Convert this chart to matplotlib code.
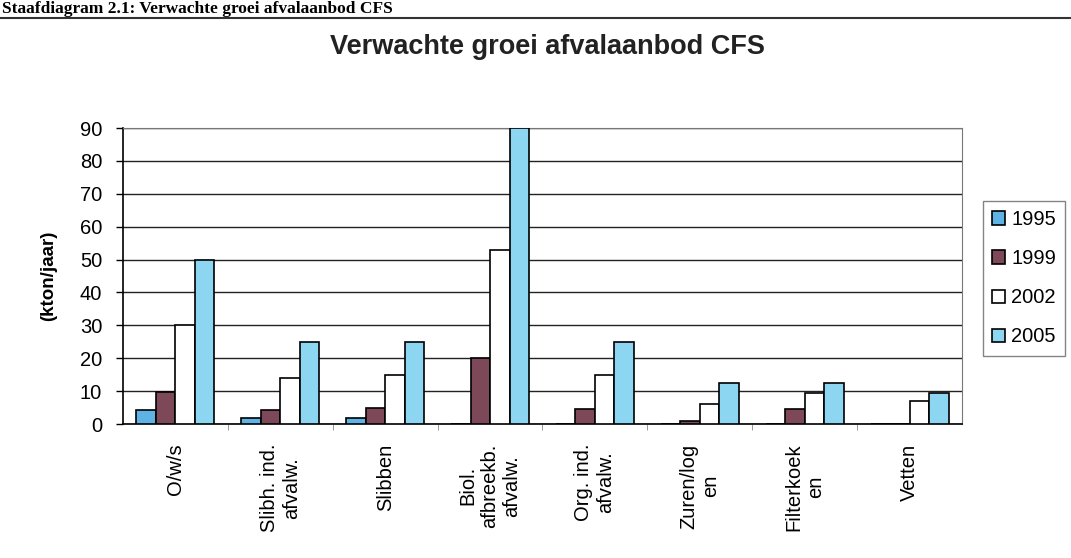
import numpy as np
import matplotlib.pyplot as plt
from matplotlib.ticker import MultipleLocator, FixedLocator

plt.rcParams['font.family'] = ['Liberation Sans', 'DejaVu Sans']

categories = ["O/w/s", "Slibh. ind.\nafvalw.", "Slibben", "Biol.\nafbreekb.\nafvalw.",
              "Org. ind.\nafvalw.", "Zuren/log\nen", "Filterkoek\nen", "Vetten"]
years = ["1995", "1999", "2002", "2005"]

v1995 = [4.3, 1.7, 1.7, 0, 0, 0, 0, 0]
v1999 = [9.6, 4.2, 4.8, 20, 4.7, 1.0, 4.6, 0]
v2002 = [30, 14, 15, 53, 15, 6, 9.5, 7]
v2005 = [50, 25, 25, 90, 25, 12.5, 12.5, 9.5]

colors = ["#5eb3e4", "#7d4858", "#ffffff", "#8dd6f2"]

fig = plt.figure(figsize=(10.71, 5.58), dpi=100)
ax = fig.add_axes([0.1148, 0.2401, 0.7834, 0.5305])

x = np.arange(len(categories))
w = 0.186
for i, (vals, c, lab) in enumerate(zip([v1995, v1999, v2002, v2005], colors, years)):
    ax.bar(x + (i - 1.5) * w, vals, width=w, color=c, edgecolor="black",
           linewidth=1.2, label=lab, zorder=3)

ax.set_xlim(-0.5, len(categories) - 0.5)
ax.set_ylim(0, 90)
ax.yaxis.set_major_locator(MultipleLocator(10))
ax.grid(axis="y", color="#222222", linewidth=1.0, zorder=0)

ax.set_xticks(x)
ax.set_xticklabels(categories, rotation=90, ha="center", va="top", fontsize=14.5)
ax.xaxis.set_minor_locator(FixedLocator(np.arange(0.5, len(categories) - 0.5, 1)))
ax.tick_params(axis="x", which="major", length=0, pad=14)
ax.tick_params(axis="x", which="minor", length=4, color="#888888")
ax.tick_params(axis="y", length=5, width=1, labelsize=14.5, pad=10)

for s in ["top", "right"]:
    ax.spines[s].set_color("#777777")
for s in ["left", "bottom"]:
    ax.spines[s].set_color("black")
    ax.spines[s].set_linewidth(1.2)

ax.set_ylabel("(kton/jaar)", fontsize=13.5, fontweight="bold", labelpad=16)

fig.text(547 / 1071, 1 - 47 / 558, "Verwachte groei afvalaanbod CFS",
         ha="center", va="center", fontsize=19.5, fontweight="bold", color="#222222")

# page header above the chart with its rule
fig.text(0.002, 1 - 13 / 558, "Staafdiagram 2.1: Verwachte groei afvalaanbod CFS",
         ha="left", va="baseline", fontsize=12.5, fontweight="bold",
         family=["Liberation Serif", "DejaVu Serif"])
fig.add_artist(plt.Line2D([0, 1], [1 - 18 / 558, 1 - 18 / 558],
                          transform=fig.transFigure, color="#333333", linewidth=1.5))

leg = ax.legend(loc="upper left", bbox_to_anchor=(983 / 1071, 1 - 201 / 558),
                bbox_transform=fig.transFigure, fontsize=14.5, frameon=True,
                fancybox=False, edgecolor="#666666", handlelength=0.65,
                handleheight=0.65, handletextpad=0.3, labelspacing=1.0,
                borderpad=0.45, borderaxespad=0)
leg.get_frame().set_linewidth(1.0)

fig.savefig("out.png", dpi=100)
